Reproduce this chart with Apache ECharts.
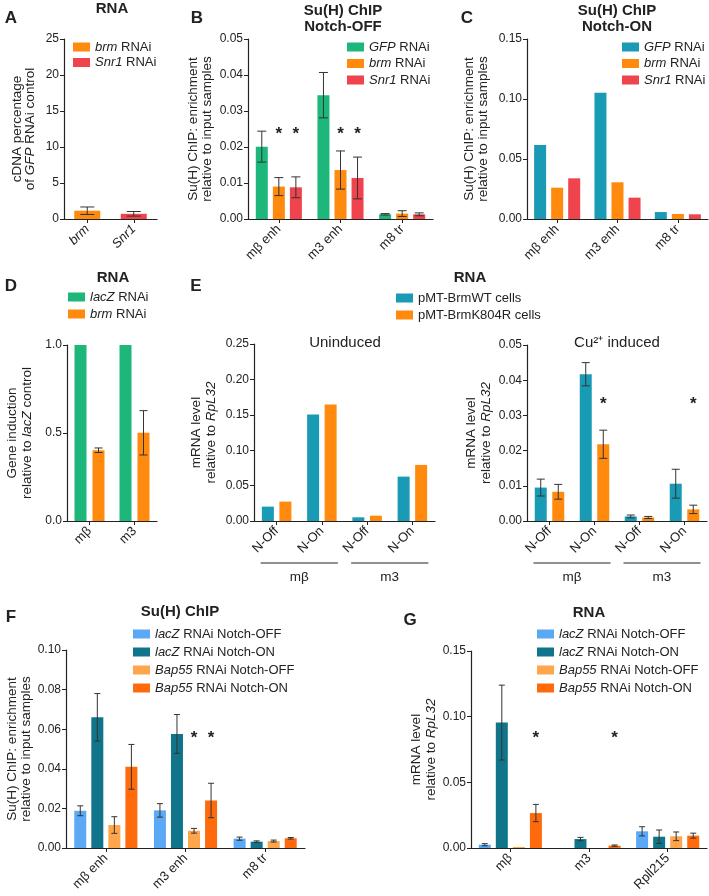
<!DOCTYPE html>
<html><head><meta charset="utf-8">
<script src="https://cdn.jsdelivr.net/npm/echarts@6/dist/echarts.min.js"></script>
<style>html,body{margin:0;padding:0;background:#fff}#c{width:709px;height:896px}</style>
</head><body><div id="c"></div><script>
// ---------------- DATA ----------------
// A
const catA = ['brm', 'Snr1'];
const aBrm = [1.15, null], aBrmErr = [0.52, null];
const aSnr = [null, 0.72], aSnrErr = [null, 0.32];
// B (Notch-OFF)
const catB = ['mβ enh', 'm3 enh', 'm8 tr'];
const bGfp = [0.0201, 0.0344, 0.0013], bGfpErr = [0.0043, 0.0063, 0.0002];
const bBrm = [0.0090, 0.0136, 0.0015], bBrmErr = [0.0025, 0.0053, 0.0008];
const bSnr = [0.0088, 0.0114, 0.0013], bSnrErr = [0.0029, 0.0058, 0.0004];
const starsB = [[0, 0.0243, 1], [0, 0.0243, 2], [1, 0.0243, 1], [1, 0.0243, 2]];
// C (Notch-ON)
const catC = ['mβ enh', 'm3 enh', 'm8 tr'];
const cGfp = [0.0617, 0.1053, 0.0058];
const cBrm = [0.0261, 0.0306, 0.0042];
const cSnr = [0.0339, 0.0178, 0.0039];
// D
const catD = ['mβ', 'm3'];
const dLacZ = [1.0, 1.0];
const dBrm = [0.402, 0.501], dBrmErr = [0.013, 0.126];
// E
const catE = ['N-Off', 'N-On', 'N-Off', 'N-On'];
const groupsE = ['mβ', 'm3'];
const groupSpansE = [[0, 1], [2, 3]];
const eUnWT = [0.0203, 0.1505, 0.0052, 0.0627];
const eUnK = [0.0274, 0.1646, 0.0075, 0.0792];
const eCuWT = [0.0095, 0.0417, 0.0013, 0.0106], eCuWTErr = [0.0024, 0.0033, 0.0004, 0.0041];
const eCuK = [0.0083, 0.0218, 0.0010, 0.0033], eCuKErr = [0.0021, 0.0040, 0.0003, 0.0012];
const starsE = [[1, 0.0339, 1], [3, 0.0339, 1]];
// F
const catF = ['mβ enh', 'm3 enh', 'm8 tr'];
const fLacOff = [0.0188, 0.0190, 0.0047], fLacOffErr = [0.0025, 0.0034, 0.0008];
const fLacOn = [0.0660, 0.0576, 0.0032], fLacOnErr = [0.0120, 0.0098, 0.0004];
const fBapOff = [0.0116, 0.0087, 0.0035], fBapOffErr = [0.0042, 0.0012, 0.0005];
const fBapOn = [0.0410, 0.0240, 0.0049], fBapOnErr = [0.0113, 0.0087, 0.0004];
const starsF = [[1, 0.0568, 2], [1, 0.0568, 3]];
// G
const catG = ['mβ', 'm3', 'Rpll215'];
const gLacOff = [0.0025, 0, 0.0127], gLacOffErr = [0.0008, null, 0.0035];
const gLacOn = [0.0955, 0.0068, 0.0086], gLacOnErr = [0.0285, 0.0013, 0.0051];
const gBapOff = [0.0008, 0, 0.0089], gBapOffErr = [null, null, 0.0033];
const gBapOn = [0.0266, 0.0018, 0.0094], gBapOnErr = [0.0066, 0.0005, 0.0019];
const starsG = [[0, 0.0861, 3], [1, 0.0861, 3]];

// ---------------- STYLE ----------------
const FONT = "'Liberation Sans', Arial, Helvetica, sans-serif";
const TXT = '#222';
const NFS = 13.5;
const COL = {
  green: '#1DB77B', orange: '#FF8A0D', red: '#EF434D', teal: '#1A9BB5',
  lblue: '#5BA8F5', dteal: '#10758A', lorange: '#FFA54B', dorange: '#FF6A0D'
};
const LBL = {
  A_brm: '{i|brm} RNAi', A_snr: '{i|Snr1} RNAi',
  B_gfp: '{i|GFP} RNAi', B_brm: '{i|brm} RNAi', B_snr: '{i|Snr1} RNAi',
  C_gfp: '{i|GFP} RNAi', C_brm: '{i|brm} RNAi', C_snr: '{i|Snr1} RNAi',
  D_lac: '{i|lacZ} RNAi', D_brm: '{i|brm} RNAi',
  E_wt: 'pMT-BrmWT cells', E_k: 'pMT-BrmK804R cells',
  FG_loff: '{i|lacZ} RNAi Notch-OFF', FG_lon: '{i|lacZ} RNAi Notch-ON',
  FG_boff: '{i|Bap55} RNAi Notch-OFF', FG_bon: '{i|Bap55} RNAi Notch-ON'
};

const grids = [
  {left: 64, top: 39, width: 93, height: 180},   // 0 A
  {left: 248, top: 39, width: 185, height: 180}, // 1 B
  {left: 527, top: 39, width: 181, height: 180}, // 2 C
  {left: 67, top: 345, width: 90, height: 176},  // 3 D
  {left: 254, top: 344, width: 181, height: 177},// 4 E left
  {left: 527, top: 345, width: 180, height: 176},// 5 E right
  {left: 66, top: 650, width: 239, height: 198}, // 6 F
  {left: 471, top: 651, width: 236, height: 197} // 7 G
];

function xAx(gi, data, italic) {
  return {
    type: 'category', gridIndex: gi, data,
    axisLine: {show: true, lineStyle: {color: TXT, width: 1.2}},
    axisTick: {show: true, alignWithLabel: true, length: 4, lineStyle: {color: TXT, width: 1}},
    axisLabel: {interval: 0, rotate: 45, fontSize: 13, fontFamily: FONT, color: TXT, margin: 8, fontStyle: italic ? 'italic' : 'normal'},
    splitLine: {show: false}
  };
}
function yAx(gi, max, interval, dec, name, gap, lh) {
  return {
    type: 'value', gridIndex: gi, min: 0, max, interval,
    name, nameLocation: 'middle', nameRotate: 90, nameGap: gap,
    nameTextStyle: {fontFamily: FONT, fontSize: NFS, color: TXT, lineHeight: lh,
      rich: {n: {fontFamily: FONT, fontSize: NFS, color: TXT, lineHeight: lh},
             i: {fontFamily: FONT, fontSize: NFS, color: TXT, fontStyle: 'italic', lineHeight: lh}}},
    axisLine: {show: true, lineStyle: {color: TXT, width: 1.2}},
    axisTick: {show: true, length: 4, lineStyle: {color: TXT, width: 1}},
    axisLabel: {fontSize: 12, fontFamily: FONT, color: TXT, margin: 5, formatter: v => v.toFixed(dec)},
    splitLine: {show: false}
  };
}
const nmChip = '{n|Su(H) ChIP: enrichment}\n{n|relative to input samples}';
const nmRpl = '{n|mRNA level}\n{n|relative to }{i|RpL32}';

const xAxis = [
  xAx(0, catA, true), xAx(1, catB), xAx(2, catC), xAx(3, catD),
  xAx(4, catE), xAx(5, catE), xAx(6, catF), xAx(7, catG)
];
const yAxis = [
  yAx(0, 25, 5, 0, '{n|cDNA percentage}\n{n|of }{i|GFP}{n| RNAi control}', 27, 13),
  yAx(1, 0.05, 0.01, 2, nmChip, 34, 14),
  yAx(2, 0.15, 0.05, 2, nmChip, 37, 14),
  yAx(3, 1.0, 0.5, 1, '{n|Gene induction}\n{n|relative to }{i|lacZ}{n| control}', 32, 15),
  yAx(4, 0.25, 0.05, 2, nmRpl, 35, 15),
  yAx(5, 0.05, 0.01, 2, nmRpl, 33, 15),
  yAx(6, 0.10, 0.02, 2, nmChip, 27, 14),
  yAx(7, 0.15, 0.05, 2, nmRpl, 28, 15)
];

const series = [];
function bar(gi, name, data, color, bw, gapPct) {
  series.push({type: 'bar', name, xAxisIndex: gi, yAxisIndex: gi, data, barWidth: bw, barGap: gapPct,
    itemStyle: {color}, silent: true});
}
function err(gi, vals, errs, idx, n, step, capW) {
  const data = [];
  vals.forEach((v, k) => { if (v != null && errs[k] != null) data.push([k, v, errs[k]]); });
  series.push({type: 'custom', xAxisIndex: gi, yAxisIndex: gi, z: 5, silent: true, data,
    encode: {x: 0, y: 1},
    renderItem(params, api) {
      const c = api.value(0), v = api.value(1), e = api.value(2);
      const off = (idx - (n - 1) / 2) * step;
      const x = api.coord([c, v])[0] + off;
      const y1 = api.coord([c, v + e])[1], y2 = api.coord([c, Math.max(v - e, 0)])[1];
      const st = {stroke: '#333', lineWidth: 1};
      return {type: 'group', children: [
        {type: 'line', shape: {x1: x, y1: y1, x2: x, y2: y2}, style: st},
        {type: 'line', shape: {x1: x - capW / 2, y1: y1, x2: x + capW / 2, y2: y1}, style: st},
        {type: 'line', shape: {x1: x - capW / 2, y1: y2, x2: x + capW / 2, y2: y2}, style: st}
      ]};
    }});
}
function stars(gi, data, n, step) {
  series.push({type: 'custom', xAxisIndex: gi, yAxisIndex: gi, z: 6, silent: true, data,
    encode: {x: 0, y: 1},
    renderItem(params, api) {
      const p = api.coord([api.value(0), api.value(1)]);
      const off = (api.value(2) - (n - 1) / 2) * step;
      return {type: 'text', x: p[0] + off, y: p[1] + 3,
        style: {text: '*', font: 'bold 17px ' + FONT, fill: TXT, align: 'center', verticalAlign: 'middle'}};
    }});
}
function brackets(gi) {
  series.push({type: 'custom', xAxisIndex: gi, yAxisIndex: gi, z: 6, silent: true,
    data: groupSpansE.map(s => [s[0], 0, s[1]]), encode: {x: 0, y: 1},
    renderItem(params, api) {
      const a = api.coord([api.value(0), 0]), b = api.coord([api.value(2), 0]);
      const y = a[1] + 42, x1 = a[0] - 16, x2 = b[0] + 16;
      return {type: 'group', children: [
        {type: 'line', shape: {x1, y1: y, x2, y2: y}, style: {stroke: TXT, lineWidth: 1}},
        {type: 'text', x: (x1 + x2) / 2, y: y + 14,
          style: {text: groupsE[params.dataIndex], font: '13.5px ' + FONT, fill: TXT, align: 'center', verticalAlign: 'middle'}}
      ]};
    }});
}

// A
bar(0, 'A_brm', aBrm, COL.orange, 26, '-100%');
bar(0, 'A_snr', aSnr, COL.red, 26, '-100%');
err(0, aBrm, aBrmErr, 0, 1, 0, 14);
err(0, aSnr, aSnrErr, 0, 1, 0, 14);
// B
bar(1, 'B_gfp', bGfp, COL.green, 12, '42%');
bar(1, 'B_brm', bBrm, COL.orange, 12, '42%');
bar(1, 'B_snr', bSnr, COL.red, 12, '42%');
err(1, bGfp, bGfpErr, 0, 3, 17.04, 9);
err(1, bBrm, bBrmErr, 1, 3, 17.04, 9);
err(1, bSnr, bSnrErr, 2, 3, 17.04, 9);
stars(1, starsB, 3, 17.04);
// C
bar(2, 'C_gfp', cGfp, COL.teal, 12, '42%');
bar(2, 'C_brm', cBrm, COL.orange, 12, '42%');
bar(2, 'C_snr', cSnr, COL.red, 12, '42%');
// D
bar(3, 'D_lac', dLacZ, COL.green, 12, '50%');
bar(3, 'D_brm', dBrm, COL.orange, 12, '50%');
err(3, dBrm, dBrmErr, 1, 2, 18, 8);
// E left
bar(4, 'E_wt', eUnWT, COL.teal, 12, '46%');
bar(4, 'E_k', eUnK, COL.orange, 12, '46%');
brackets(4);
// E right
bar(5, 'E_wt', eCuWT, COL.teal, 12, '46%');
bar(5, 'E_k', eCuK, COL.orange, 12, '46%');
err(5, eCuWT, eCuWTErr, 0, 2, 17.52, 8);
err(5, eCuK, eCuKErr, 1, 2, 17.52, 8);
stars(5, starsE, 2, 17.52);
brackets(5);
// F
const fgNames = ['FG_loff', 'FG_lon', 'FG_boff', 'FG_bon'];
const fgCols = [COL.lblue, COL.dteal, COL.lorange, COL.dorange];
[fLacOff, fLacOn, fBapOff, fBapOn].forEach((d, i) => bar(6, fgNames[i], d, fgCols[i], 12, '42%'));
[[fLacOff, fLacOffErr], [fLacOn, fLacOnErr], [fBapOff, fBapOffErr], [fBapOn, fBapOnErr]]
  .forEach((p, i) => err(6, p[0], p[1], i, 4, 17.04, 6));
stars(6, starsF, 4, 17.04);
// G
[gLacOff, gLacOn, gBapOff, gBapOn].forEach((d, i) => bar(7, fgNames[i], d, fgCols[i], 12, '42%'));
[[gLacOff, gLacOffErr], [gLacOn, gLacOnErr], [gBapOff, gBapOffErr], [gBapOn, gBapOnErr]]
  .forEach((p, i) => err(7, p[0], p[1], i, 4, 17.04, 6));
stars(7, starsG, 4, 17.04);

function leg(names, left, top, gap) {
  return {orient: 'vertical', left, top, itemWidth: 17, itemHeight: 9, itemGap: gap, icon: 'rect',
    selectedMode: false, data: names, formatter: n => LBL[n], padding: 0,
    textStyle: {fontFamily: FONT, fontSize: 13, color: TXT, lineHeight: 14,
      rich: {i: {fontFamily: FONT, fontSize: 13, color: TXT, fontStyle: 'italic', lineHeight: 14}}}};
}
const legend = [
  leg(['A_brm', 'A_snr'], 73, 40, 1.5),
  leg(['B_gfp', 'B_brm', 'B_snr'], 347, 40, 2.5),
  leg(['C_gfp', 'C_brm', 'C_snr'], 622, 40, 2.5),
  leg(['D_lac', 'D_brm'], 68, 290, 3),
  leg(['E_wt', 'E_k'], 396, 291, 3),
  leg(fgNames, 133, 627, 4),
  leg(fgNames, 537, 627, 4)
];

function t(x, y, text, font) {
  return {type: 'text', x, y, silent: true,
    style: {text, font: font + ' ' + FONT, fill: TXT, align: 'center', verticalAlign: 'middle'}};
}
const B15 = 'bold 15px', L17 = 'bold 17px', R15 = '15px';
const graphic = [
  t(11, 18, 'A', L17), t(197, 18, 'B', L17), t(467, 18, 'C', L17),
  t(11, 286, 'D', L17), t(196, 286, 'E', L17), t(11, 617, 'F', L17), t(410, 620, 'G', L17),
  t(112, 9, 'RNA', B15),
  t(343, 11, 'Su(H) ChIP', B15), t(343, 27, 'Notch-OFF', B15),
  t(617, 11, 'Su(H) ChIP', B15), t(617, 27, 'Notch-ON', B15),
  t(113, 278, 'RNA', B15), t(470, 278, 'RNA', B15),
  t(345, 343, 'Uninduced', R15), t(617, 343, 'Cu²⁺ induced', R15),
  t(180, 612, 'Su(H) ChIP', B15), t(589, 613, 'RNA', B15)
];

const chart = echarts.init(document.getElementById('c'), null, {renderer: 'canvas'});
chart.setOption({
  animation: false, backgroundColor: '#fff',
  textStyle: {fontFamily: FONT},
  grid: grids, xAxis, yAxis, series, legend, graphic
});
</script></body></html>
